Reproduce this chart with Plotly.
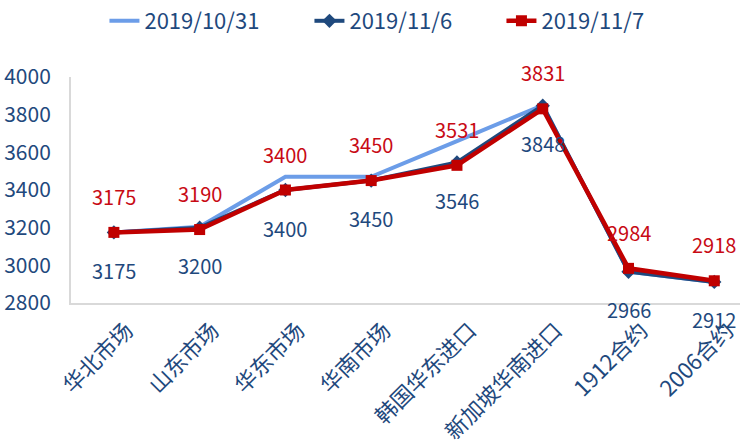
import plotly.graph_objs as go

categories = ["华北市场", "山东市场", "华东市场", "华南市场", "韩国华东进口", "新加坡华南进口", "1912合约", "2006合约"]
series_names = ["2019/10/31", "2019/11/6", "2019/11/7"]
values_1031 = [3175, 3205, 3470, 3470, 3660, 3850, 2966, 2912]
values_1106 = [3175, 3200, 3400, 3450, 3546, 3848, 2966, 2912]
values_1107 = [3175, 3190, 3400, 3450, 3531, 3831, 2984, 2918]

font_family = "Noto Sans CJK SC, Noto Sans, sans-serif"
blue_text = "rgb(31, 73, 125)"
red_text = "rgb(200, 10, 20)"

trace_1031 = go.Scatter(
    x=categories,
    y=values_1031,
    name=series_names[0],
    mode="lines",
    line=dict(color="rgb(108, 157, 232)", width=4),
    legendwidth=160,
)
trace_1106 = go.Scatter(
    x=categories,
    y=values_1106,
    name=series_names[1],
    mode="lines+markers",
    line=dict(color="rgb(31, 73, 125)", width=4),
    marker=dict(symbol="diamond", size=11, color="rgb(31, 73, 125)"),
    legendwidth=147,
)
trace_1107 = go.Scatter(
    x=categories,
    y=values_1107,
    name=series_names[2],
    mode="lines+markers",
    line=dict(color="rgb(192, 0, 0)", width=4.5),
    marker=dict(symbol="square", size=11, color="rgb(192, 0, 0)"),
    legendwidth=135,
)

annotations = []
for cat, v in zip(categories, values_1106):
    annotations.append(
        dict(
            xref="x", yref="y", x=cat, y=v, text=str(v), yshift=-38,
            showarrow=False, font=dict(family=font_family, size=20, color=blue_text),
        )
    )
for cat, v in zip(categories, values_1107):
    annotations.append(
        dict(
            xref="x", yref="y", x=cat, y=v, text=str(v), yshift=36,
            showarrow=False, font=dict(family=font_family, size=20, color=red_text),
        )
    )

layout = go.Layout(
    width=740,
    height=446,
    margin=dict(t=75, b=143, l=71, r=0),
    paper_bgcolor="white",
    plot_bgcolor="white",
    font=dict(family=font_family, size=20, color=blue_text),
    showlegend=True,
    legend=dict(
        orientation="h",
        x=0.05,
        xanchor="left",
        y=1.25,
        yanchor="middle",
        font=dict(size=22, color=blue_text),
    ),
    xaxis=dict(
        type="category",
        range=[-0.5, 7.3],
        automargin=False,
        showgrid=False,
        showline=True,
        linecolor="rgb(217, 217, 217)",
        linewidth=2,
        zeroline=False,
        tickangle=-45,
        ticks="",
        ticklabelshift=13,
        ticklabelstandoff=4,
        tickfont=dict(size=22, color=blue_text),
    ),
    yaxis=dict(
        range=[2800, 4000],
        dtick=200,
        automargin=False,
        showgrid=False,
        showline=True,
        linecolor="rgb(217, 217, 217)",
        linewidth=2,
        zeroline=False,
        ticks="",
        ticklabelstandoff=14,
        tickfont=dict(size=21, color=blue_text),
    ),
    annotations=annotations,
)

fig = go.Figure(data=[trace_1031, trace_1106, trace_1107], layout=layout)
fig.write_html(
    "out.html",
    config={"displayModeBar": False},
    post_script="document.body.style.margin='0';document.body.style.overflow='hidden';",
)
